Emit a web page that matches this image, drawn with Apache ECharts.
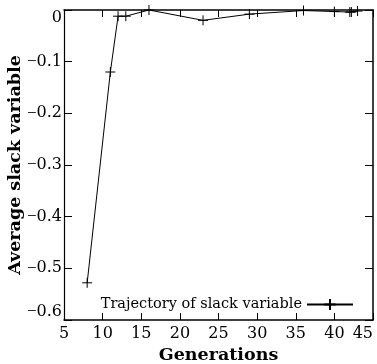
<!DOCTYPE html>
<html><head><meta charset="utf-8">
<script src="https://cdn.jsdelivr.net/npm/echarts@6/dist/echarts.min.js"></script>
<style>html,body{margin:0;padding:0;background:#fff}#c{width:377px;height:364px}</style>
</head><body><div id="c"></div>
<script>
const generations = [8, 11, 12, 13, 16, 23, 29, 36, 40, 42, 42.2, 43];
const slack = [-0.528, -0.12, -0.012, -0.012, 0, -0.02, -0.008, -0.001, -0.003, -0.004, -0.004, -0.002];
const seriesName = 'Trajectory of slack variable';
const xTitle = 'Generations';
const yTitle = 'Average slack variable';

const FONT = 'DejaVu Serif';
const plus = 'path://M0,5 L10,5 M5,0 L5,10';
const fmtY = v => (v < 0 ? '{m|\u2212}' + String(-v) : String(v));
const tickStyle = {lineStyle: {color: '#000', width: 1}};
const chart = echarts.init(document.getElementById('c'));
chart.setOption({
  animation: false,
  backgroundColor: '#fff',
  grid: {left: 64, right: 4, top: 10, bottom: 44, containLabel: false, outerBoundsMode: 'none'},
  legend: {
    data: [seriesName], right: 18, top: 292, align: 'right',
    itemWidth: 46, itemHeight: 14, itemGap: 0,
    textStyle: {fontFamily: FONT, fontSize: 14.5, color: '#000'}
  },
  xAxis: [{
    type: 'value', min: 5, max: 45, interval: 5, position: 'bottom',
    name: xTitle, nameLocation: 'middle', nameGap: 26, nameMoveOverlap: false,
    nameTextStyle: {fontFamily: FONT, fontSize: 17.5, fontWeight: 'bold', color: '#000'},
    axisLine: {onZero: false, lineStyle: {color: '#000', width: 1.5}},
    axisTick: Object.assign({inside: true, length: 7}, tickStyle),
    axisLabel: {fontFamily: FONT, fontSize: 16, color: '#000', margin: 6, alignMaxLabel: 'right'},
    splitLine: {show: false}
  }, {
    type: 'value', min: 5, max: 45, interval: 5, position: 'top',
    axisLine: {onZero: false, lineStyle: {color: '#000', width: 1.5}},
    axisTick: Object.assign({inside: true, length: 7}, tickStyle),
    axisLabel: {show: false}, splitLine: {show: false}
  }],
  yAxis: [{
    type: 'value', min: -0.6, max: 0, interval: 0.1, position: 'left',
    name: yTitle, nameLocation: 'middle', nameGap: 40, nameRotate: 90, nameMoveOverlap: false,
    nameTextStyle: {fontFamily: FONT, fontSize: 17.5, fontWeight: 'bold', color: '#000'},
    axisLine: {onZero: false, lineStyle: {color: '#000', width: 1.2}},
    axisTick: Object.assign({inside: true, length: 8}, tickStyle),
    axisLabel: {fontFamily: FONT, fontSize: 16, color: '#000', margin: 2, formatter: fmtY,
      verticalAlignMaxLabel: 'top', verticalAlignMinLabel: 'bottom',
      rich: {m: {fontFamily: 'Liberation Serif', fontSize: 17, color: '#000'}}},
    splitLine: {show: false}
  }, {
    type: 'value', min: -0.6, max: 0, interval: 0.1, position: 'right',
    axisLine: {onZero: false, lineStyle: {color: '#000', width: 1.5}},
    axisTick: Object.assign({inside: true, length: 8}, tickStyle),
    axisLabel: {show: false}, splitLine: {show: false}
  }],
  series: [{
    name: seriesName, type: 'line', clip: false,
    data: generations.map((g, i) => [g, slack[i]]),
    symbol: plus, symbolSize: 10,
    lineStyle: {color: '#000', width: 1},
    itemStyle: {color: '#000', borderColor: '#000', borderWidth: 1}
  }]
});
</script></body></html>
